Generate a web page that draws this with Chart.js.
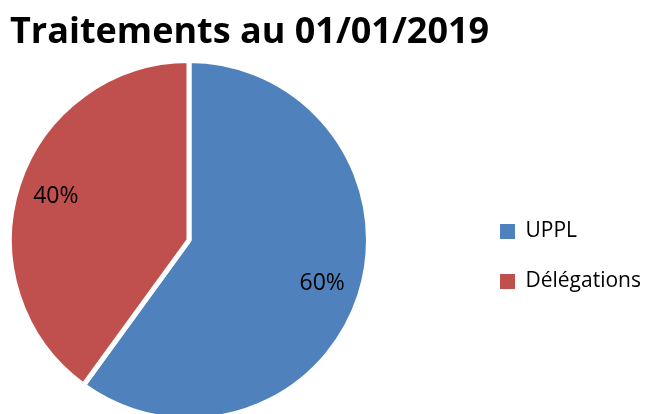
<!DOCTYPE html>
<html>
<head>
  <title>Traitements au 01/01/2019</title>
  <style>
    body {
      margin: 0;
      background: #fff;
    }
    #pie {
      display: block;
    }
  </style>
</head>
<body>
  <canvas id="pie" width="653" height="414"></canvas>

  <script src="https://cdn.jsdelivr.net/npm/chart.js"></script>
  <script>
    // données du graphique
    const titre = 'Traitements au 01/01/2019';
    const categories = ['UPPL', 'Délégations'];
    const valeurs = [60, 40];
    const couleurs = ['#4F81BD', '#C0504D'];

    const police = '"Open Sans", "Liberation Sans", sans-serif';

    // pourcentages dans les parts
    const pctLabels = {
      id: 'pctLabels',
      afterDatasetsDraw(chart) {
        const ctx = chart.ctx;
        const meta = chart.getDatasetMeta(0);
        const data = chart.data.datasets[0].data;
        const total = data.reduce((a, b) => a + b, 0);
        ctx.save();
        ctx.font = '23px ' + police;
        ctx.fillStyle = '#000';
        ctx.textAlign = 'center';
        ctx.textBaseline = 'middle';
        meta.data.forEach((arc, i) => {
          const p = arc.getProps(['x', 'y', 'startAngle', 'endAngle', 'outerRadius'], true);
          const mid = (p.startAngle + p.endAngle) / 2;
          const r = p.outerRadius * 0.78;
          ctx.fillText(Math.round(data[i] / total * 100) + '%', p.x + Math.cos(mid) * r, p.y + Math.sin(mid) * r);
        });
        ctx.restore();
      }
    };

    // légende placée à droite comme dans Excel
    const moveLegend = {
      id: 'moveLegend',
      afterLayout(chart) {
        const lg = chart.legend;
        const pad = lg.options.labels.padding;
        const h = lg.height;
        lg.left = 500 - pad;
        lg.right = chart.width;
        lg.width = lg.right - lg.left;
        lg.top = 221 - pad;
        lg.bottom = lg.top + h;
      }
    };

    const baseLabels = (Chart.overrides.pie || Chart.overrides.doughnut).plugins.legend.labels.generateLabels;

    const pieChart = new Chart(document.getElementById('pie'), {
      type: 'pie',
      data: {
        labels: categories,
        datasets: [{
          data: valeurs,
          backgroundColor: couleurs,
          borderColor: '#fff',
          borderWidth: 5,
          radius: 179.5,
          clip: false
        }]
      },
      options: {
        responsive: false,
        animation: false,
        radius: 179.5,
        layout: {
          padding: { left: 10, right: 135, top: 0, bottom: 0 }
        },
        plugins: {
          title: {
            display: true,
            text: titre,
            align: 'start',
            color: '#000',
            font: { family: police, size: 36, weight: 'bold' },
            padding: { top: 11, bottom: 12 }
          },
          legend: {
            position: 'right',
            align: 'start',
            maxWidth: 150,
            labels: {
              color: '#000',
              boxWidth: 15,
              boxHeight: 15,
              padding: 29,
              font: { family: police, size: 21 },
              generateLabels(chart) {
                return baseLabels(chart).map(l => Object.assign(l, { lineWidth: 0 }));
              }
            }
          },
          tooltip: { enabled: false }
        }
      },
      plugins: [pctLabels, moveLegend]
    });
  </script>
</body>
</html>
